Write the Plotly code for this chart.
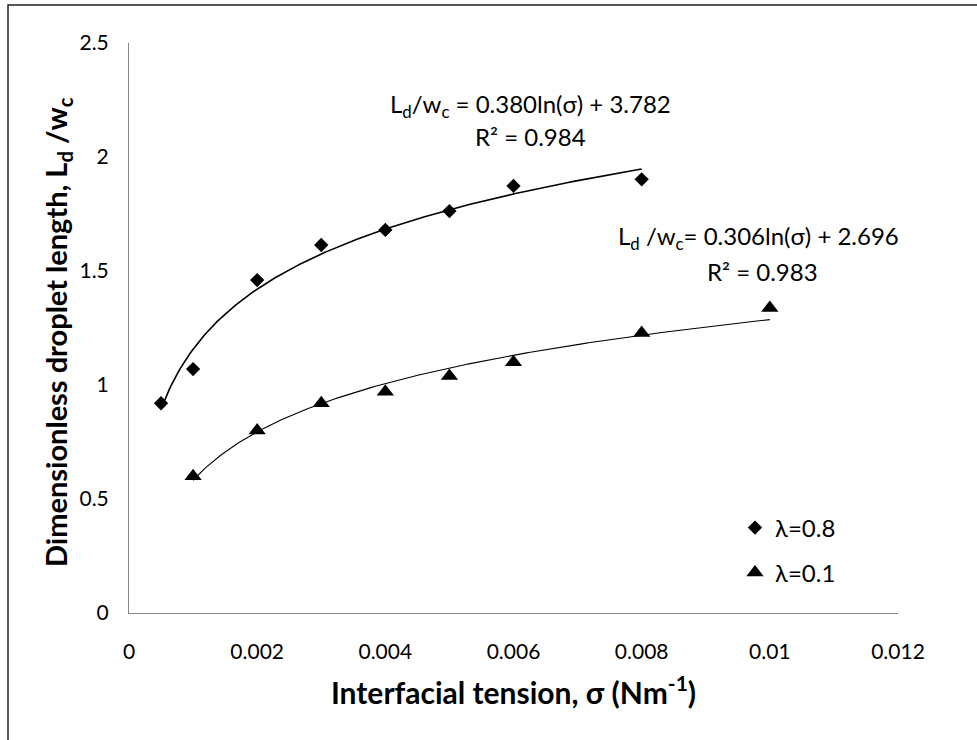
import numpy as np
import plotly.graph_objects as go

# Data
sigma_08 = [0.0005, 0.001, 0.002, 0.003, 0.004, 0.005, 0.006, 0.008]
ld_08 = [0.92, 1.07, 1.46, 1.614, 1.68, 1.763, 1.873, 1.902]
sigma_01 = [0.001, 0.002, 0.003, 0.004, 0.005, 0.006, 0.008, 0.01]
ld_01 = [0.60, 0.80, 0.92, 0.97, 1.04, 1.10, 1.228, 1.338]

# Logarithmic trendline coefficients (from the chart)
a_08, b_08 = 0.380, 3.782
a_01, b_01 = 0.306, 2.696

x_ticks = [0, 0.002, 0.004, 0.006, 0.008, 0.01, 0.012]
x_tick_text = ["0", "0.002", "0.004", "0.006", "0.008", "0.01", "0.012"]
y_ticks = [0, 0.5, 1, 1.5, 2, 2.5]
y_tick_text = ["0", "0.5", "1", "1.5", "2", "2.5"]

FONT = "Lato"

fit_x08 = np.linspace(min(sigma_08), max(sigma_08), 300)
fit_y08 = a_08 * np.log(fit_x08) + b_08
fit_x01 = np.linspace(min(sigma_01), max(sigma_01), 300)
fit_y01 = a_01 * np.log(fit_x01) + b_01

fig = go.Figure()
fig.add_trace(go.Scatter(x=fit_x08, y=fit_y08, mode="lines",
                         line=dict(color="black", width=1.6), showlegend=False, hoverinfo="skip"))
fig.add_trace(go.Scatter(x=fit_x01, y=fit_y01, mode="lines",
                         line=dict(color="black", width=1.1), showlegend=False, hoverinfo="skip"))
fig.add_trace(go.Scatter(x=sigma_08, y=ld_08, mode="markers", name="λ=0.8",
                         marker=dict(symbol="diamond", size=11, color="black"),
                         legend="legend"))
fig.add_trace(go.Scatter(x=sigma_01, y=ld_01, mode="markers", name="λ=0.1",
                         marker=dict(symbol="triangle-up", size=15, color="black"),
                         legend="legend2"))

ann_font = dict(family=FONT, size=24, color="black")
fig.add_annotation(x=0.00626, y=2.228, xref="x", yref="y", showarrow=False,
                   text="L<sub>d</sub>/w<sub>c</sub> = 0.380ln(σ) + 3.782", font=ann_font)
fig.add_annotation(x=0.00626, y=2.088, xref="x", yref="y", showarrow=False,
                   text="R² = 0.984", font=ann_font)
fig.add_annotation(x=0.00983, y=1.645, xref="x", yref="y", showarrow=False,
                   text="L<sub>d</sub> /w<sub>c</sub>= 0.306ln(σ) + 2.696", font=ann_font)
fig.add_annotation(x=0.00988, y=1.496, xref="x", yref="y", showarrow=False,
                   text="R² = 0.983", font=ann_font)

W, H = 977, 740
ml, mr, mt, mb = 129, 79, 43, 127
pw, ph = W - ml - mr, H - mt - mb

def px(xp):
    return (xp - ml) / pw

def py(yp):
    return (H - mb - yp) / ph

# y-axis title as a rotated annotation for exact placement
fig.add_annotation(x=px(57), y=py(332), xref="paper", yref="paper", showarrow=False,
                   textangle=-90, xanchor="center", yanchor="middle",
                   text="<b>Dimensionless droplet length, L<sub>d</sub> /w<sub>c</sub></b>",
                   font=dict(family=FONT, size=29, color="black"))

# outer chart border (extends beyond the right and bottom edges)
fig.add_shape(type="rect", xref="paper", yref="paper",
              x0=px(8), x1=px(990), y0=py(750), y1=py(5),
              line=dict(color="#222222", width=1.5), layer="below")

axis_common = dict(showgrid=False, zeroline=False, showline=True,
                   linecolor="#868686", linewidth=1, ticks="", automargin=False,
                   tickfont=dict(family=FONT, size=21, color="black"))

fig.update_layout(
    width=W, height=H,
    margin=dict(l=ml, r=mr, t=mt, b=mb),
    paper_bgcolor="white", plot_bgcolor="white",
    xaxis=dict(range=[0, 0.012], tickvals=x_ticks, ticktext=x_tick_text,
               ticklabelstandoff=20,
               title=dict(text="<b>Interfacial tension, σ (Nm<sup>-1</sup>)</b>",
                          font=dict(family=FONT, size=30, color="black"), standoff=20),
               **axis_common),
    yaxis=dict(range=[0, 2.5], tickvals=y_ticks, ticktext=y_tick_text,
               ticklabelstandoff=15, **axis_common),
    legend=dict(x=px(735), y=py(528), xanchor="left", yanchor="middle",
                font=dict(family=FONT, size=24, color="black"),
                bgcolor="rgba(0,0,0,0)", itemwidth=30),
    legend2=dict(x=px(735), y=py(573), xanchor="left", yanchor="middle",
                 font=dict(family=FONT, size=24, color="black"),
                 bgcolor="rgba(0,0,0,0)", itemwidth=30),
    showlegend=True,
)

fig.write_html("out.html")
